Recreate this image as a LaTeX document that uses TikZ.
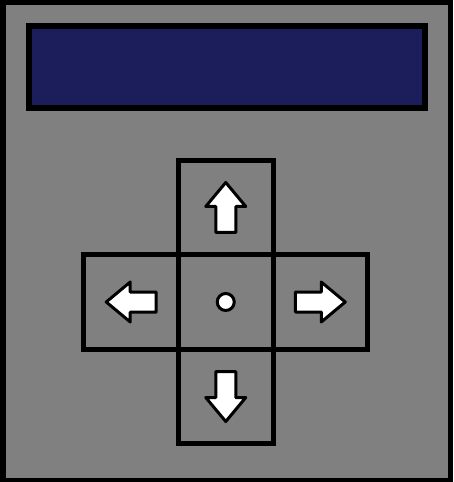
\documentclass[tikz,border=0pt]{standalone}
\usepackage{tikz}
\usepackage{xcolor}
\usetikzlibrary{positioning}
\definecolor{CaseGray}{RGB}{128,128,128}
\definecolor{ScreenBlue}{RGB}{27,30,90}

\begin{document}
\begin{tikzpicture}[x=0.03cm, y=-0.03cm,
    keybox/.style={draw=black, line width=0.15cm, minimum size=2.835cm, inner sep=0pt, outer sep=0pt},
    keyarrow/.style={draw=black, fill=white, line width=0.09cm, line join=round}]
      \useasboundingbox (0,0) rectangle (453,482);
      % case
      \fill[black] (0,0) rectangle (453,482);
      \fill[CaseGray] (6,5) rectangle (448,478);
      % screen
      \node[draw=black, fill=ScreenBlue, line width=0.18cm, minimum width=11.85cm, minimum height=2.43cm, inner sep=0pt] (screen) at (227,67) {};

      % keypad
      \node[keybox] (mid) at (225.75,302) {};
      \node[keybox, above=0pt of mid] (up) {};
      \node[keybox, below=0pt of mid] (down) {};
      \node[keybox, left=0pt of mid] (left) {};
      \node[keybox, right=0pt of mid] (right) {};

      \foreach \k/\a in {up/0, left/90, down/180, right/-90}
        \draw[keyarrow, shift={(\k.center)}, rotate=\a] (0,-25) -- (20,-1) -- (10,-1) -- (10,25) -- (-10,25) -- (-10,-1) -- (-20,-1) -- cycle;

      \node[circle, draw=black, fill=white, line width=0.09cm, minimum size=0.51cm, inner sep=0pt] (dot) at (mid.center) {};
    \end{tikzpicture}
\end{document}
